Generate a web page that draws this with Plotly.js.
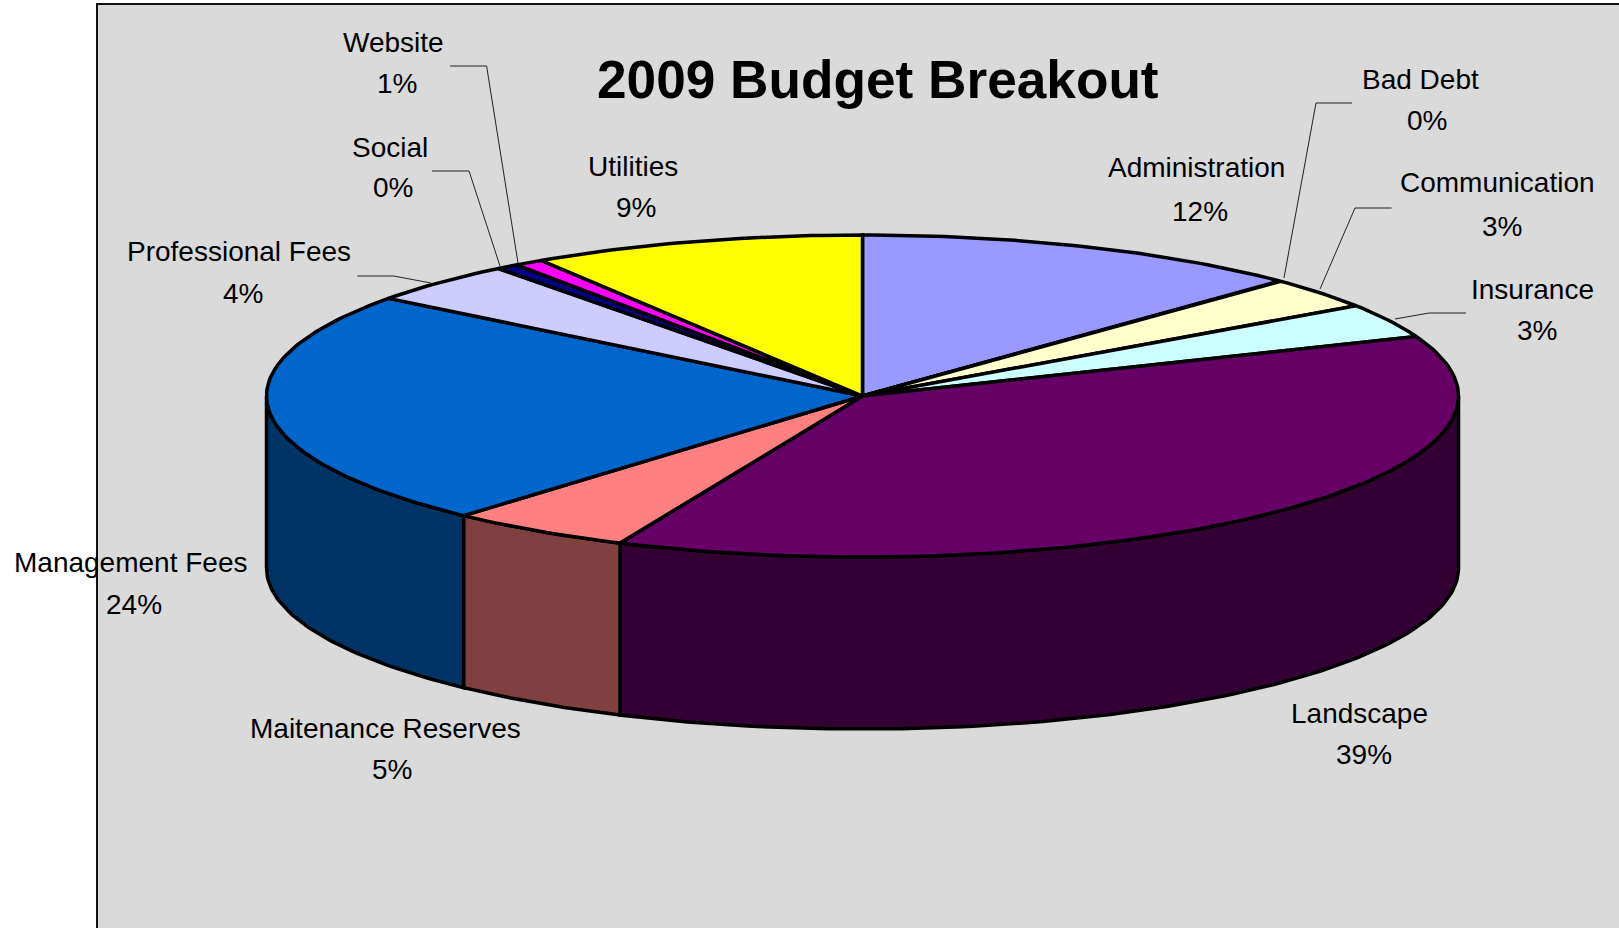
<!DOCTYPE html>
<html>
<head>
<meta charset="utf-8">
<script src="https://cdn.plot.ly/plotly-3.0.1.min.js"></script>
<style>html,body{margin:0;padding:0;background:#fff}#chart{width:1619px;height:928px}</style>
</head>
<body>
<div id="chart"></div>
<script>
// ---- chart values ----
const categories = ["Administration","Bad Debt","Communication","Insurance","Landscape","Maitenance Reserves","Management Fees","Professional Fees","Social","Website","Utilities"];
const sliceShares = [12.33,0.05,3.15,3.44,37.7,5,23.7,4.17,0.61,0.78,9.07];
const percentLabels = ["12%","0%","3%","3%","39%","5%","24%","4%","0%","1%","9%"];
const topColors = ["#9999FF","#993366","#FFFFCC","#CCFFFF","#660066","#FF8080","#0066CC","#CCCCFF","#000080","#FF00FF","#FFFF00"];
const wallColors = ["#4D4D80","#4D1A33","#808066","#668080","#330033","#804040","#003366","#666680","#000040","#800080","#808000"];
const chartTitle = "2009 Budget Breakout";

// ---- layout (page pixels) ----
const W = 1619, H = 928, L = 98, T = 5;
const CX = 862.5, CY = 396, RX = 596, RY = 161, DEPTH = 172;
const namePos = [[1196,168],[1420,80],[1497,183],[1532,289],[1359,713],[385,728],[130,562],[239,252],[390,147],[393,42],[633,166]];
const pctPos  = [[1200,211],[1427,121],[1502,226],[1537,330],[1364,754],[392,769],[134,604],[243,293],[393,188],[397,83],[636,207]];
const leaders = [
  [[450,66],[486.6,66],[518,263]],
  [[432,171],[469,171],[500,266]],
  [[357.4,276],[393.6,276],[431,283]],
  [[1352,103],[1316,103],[1284,278]],
  [[1391.6,208],[1355,208],[1320,289]],
  [[1466,313],[1429,313],[1395,319]]
];
const px = x => (x - L) / (W - L);
const py = y => 1 - (y - T) / (H - T);

// pie geometry: unit circle flattened by the axes' scales, depth in axis units
const depthUnits = DEPTH / RY;
const total = sliceShares.reduce((a, b) => a + b, 0);
const pt = deg => { const r = deg * Math.PI / 180; return [Math.sin(r), Math.cos(r)]; };
function arc(a0, a1) {
  const out = [], n = Math.max(2, Math.ceil(Math.abs(a1 - a0)));
  for (let i = 0; i <= n; i++) out.push(pt(a0 + (a1 - a0) * i / n));
  return out;
}
const traces = [], tops = [];
let acc = 0;
const lineStyle = {color: "#000", width: 3.5};
sliceShares.forEach((v, i) => {
  const a0 = acc / total * 360, a1 = (acc + v) / total * 360;
  acc += v;
  const w0 = Math.max(a0, 90), w1 = Math.min(a1, 270);
  if (w1 > w0) {
    const upper = arc(w0, w1), lower = arc(w1, w0).map(p => [p[0], p[1] - depthUnits]);
    const ring = upper.concat(lower, [upper[0]]);
    traces.push({type: "scatter", mode: "lines", name: categories[i] + " side", x: ring.map(p => p[0]), y: ring.map(p => p[1]),
      fill: "toself", fillcolor: wallColors[i], line: lineStyle, hoverinfo: "skip", showlegend: false});
  }
  const ring = [[0, 0]].concat(arc(a0, a1), [[0, 0]]);
  tops.push({type: "scatter", mode: "lines", name: categories[i], x: ring.map(p => p[0]), y: ring.map(p => p[1]),
    fill: "toself", fillcolor: topColors[i], line: lineStyle, hoverinfo: "name", showlegend: false});
});

const textFont = {family: "Liberation Sans, Arial, sans-serif", size: 28, color: "#000"};
const annotations = [];
categories.forEach((c, i) => {
  annotations.push({xref: "paper", yref: "paper", x: px(namePos[i][0]), y: py(namePos[i][1]), text: c, showarrow: false, font: textFont, xanchor: "center", yanchor: "middle"});
  annotations.push({xref: "paper", yref: "paper", x: px(pctPos[i][0]), y: py(pctPos[i][1]), text: percentLabels[i], showarrow: false, font: textFont, xanchor: "center", yanchor: "middle"});
});
annotations.push({xref: "paper", yref: "paper", x: px(878), y: py(80), text: "<b>" + chartTitle + "</b>", showarrow: false,
  font: {family: "Liberation Sans, Arial, sans-serif", size: 53.2, color: "#000"}, xanchor: "center", yanchor: "middle"});

const shapes = leaders.map(l => ({type: "path", xref: "paper", yref: "paper", layer: "above",
  path: "M" + l.map(p => px(p[0]) + "," + py(p[1])).join("L"), line: {color: "#222", width: 1}}));

const hiddenAxis = {showgrid: false, zeroline: false, ticks: "", showticklabels: false, showline: true, linecolor: "#111", linewidth: 1.5, fixedrange: true};
Plotly.newPlot("chart", traces.concat(tops), {
  width: W, height: H,
  margin: {l: L, r: 0, t: T, b: 0, pad: 0},
  paper_bgcolor: "#FFFFFF", plot_bgcolor: "#DADADA",
  showlegend: false,
  xaxis: Object.assign({}, hiddenAxis, {side: "top", range: [(L - CX) / RX, (W - CX) / RX]}),
  yaxis: Object.assign({}, hiddenAxis, {range: [(CY - H) / RY, (CY - T) / RY]}),
  annotations, shapes
}, {displayModeBar: false, staticPlot: false});
</script>
</body>
</html>
